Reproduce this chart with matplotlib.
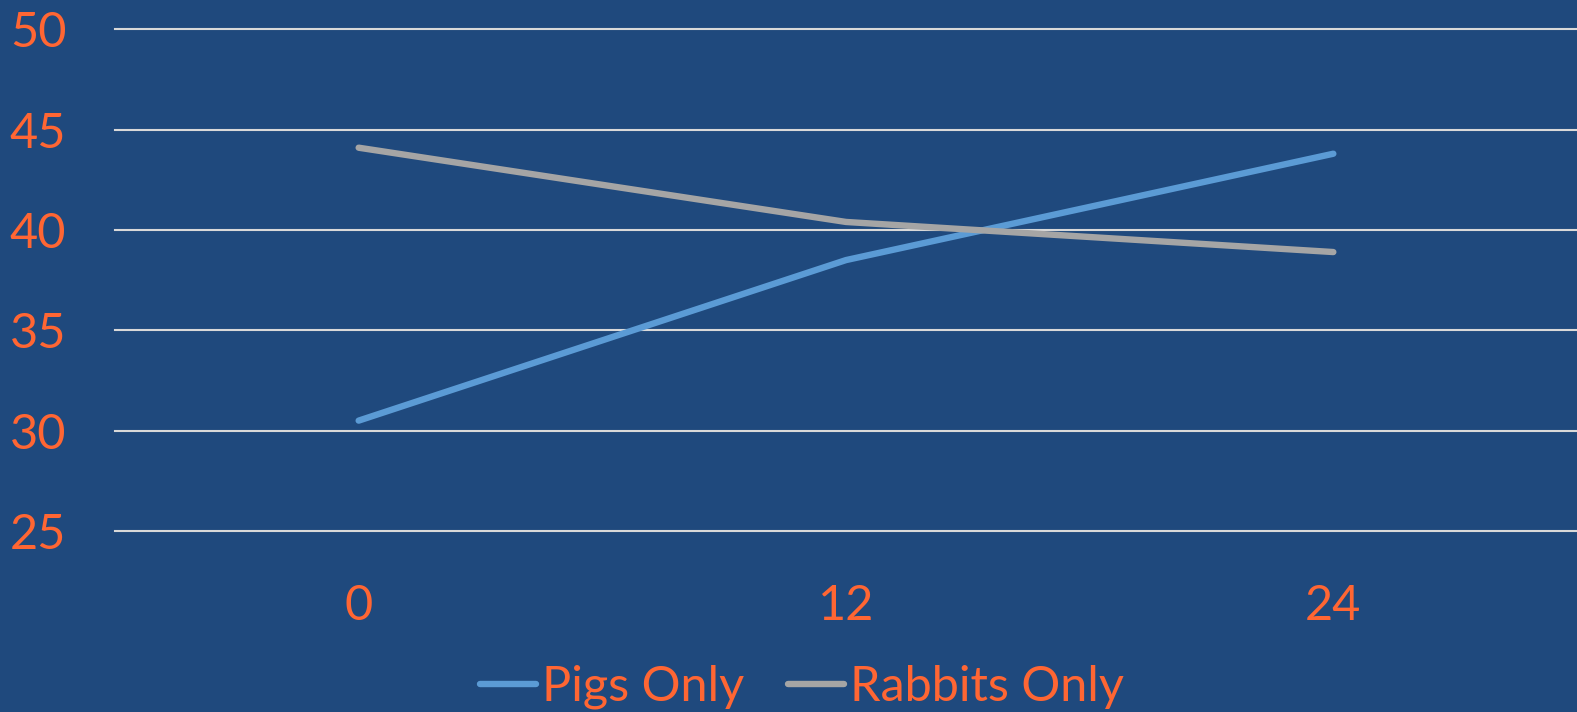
import matplotlib
matplotlib.use("Agg")
import matplotlib.pyplot as plt

# Data
hours = ["0", "12", "24"]
pigs_only = [30.5, 38.5, 43.8]
rabbits_only = [44.1, 40.4, 38.9]
y_ticks = [25, 30, 35, 40, 45, 50]

BG = "#1F497D"
ORANGE = "#FF6633"
BLUE = "#5B9BD5"
GRAY = "#A5A5A5"
GRID = "#D9D9D9"

plt.rcParams["font.family"] = ["Lato", "DejaVu Sans"]

W, H = 1577, 712
fig = plt.figure(figsize=(W / 100, H / 100), dpi=100, facecolor=BG)
ax = fig.add_axes([115 / W, 1 - 531 / H, 1 - 115 / W, (531 - 29.3) / H])
ax.set_facecolor(BG)

x = list(range(len(hours)))
ax.plot(x, pigs_only, color=BLUE, lw=4.6, solid_capstyle="round", label="Pigs Only", zorder=3, clip_on=False)
ax.plot(x, rabbits_only, color=GRAY, lw=4.6, solid_capstyle="round", label="Rabbits Only", zorder=3, clip_on=False)

ax.set_xlim(-0.5, len(hours) - 0.5)
ax.set_ylim(25, 50)
ax.set_yticks(y_ticks)
ax.set_xticks(x)
ax.set_xticklabels(hours)
ax.yaxis.grid(True, color=GRID, lw=1.5, zorder=1)
for gl in ax.get_ygridlines():
    gl.set_clip_on(False)
ax.set_axisbelow(True)

for s in ax.spines.values():
    s.set_visible(False)
ax.tick_params(axis="both", length=0, labelcolor=ORANGE, labelsize=35)
ax.tick_params(axis="y", pad=35)
ax.tick_params(axis="x", pad=38)

leg = fig.legend(loc="center", bbox_to_anchor=(802 / W, 1 - 687 / H), ncol=2, frameon=False,
                 fontsize=35, handlelength=1.15, handletextpad=0.12, columnspacing=0.9,
                 labelcolor=ORANGE)
for h in leg.legend_handles:
    h.set_linewidth(4.6)
    h.set_solid_capstyle("round")

fig.savefig("out.png", dpi=100, facecolor=BG)
